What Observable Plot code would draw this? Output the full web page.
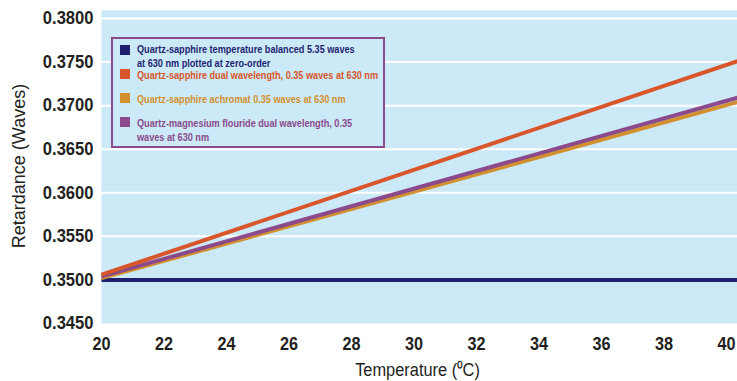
<!DOCTYPE html>
<html>
<head>
<meta charset="utf-8">
<script src="https://cdn.jsdelivr.net/npm/d3@7"></script>
<script src="https://cdn.jsdelivr.net/npm/@observablehq/plot@0.6"></script>
<style>
  body { margin: 0; background: #fff; }
  #wrap { position: relative; width: 737px; height: 381px; font-family: "Liberation Sans", Arial, sans-serif; }
  #legend { position: absolute; left: 111px; top: 37px; width: 270px; height: 107px; border: 2.5px solid #8b4a8c; background: #cce9f8; }
  .sw { position: absolute; left: 6.5px; width: 10px; height: 10px; }
  .lbl { position: absolute; left: 23.5px; white-space: nowrap; font-size: 11px; font-weight: bold; line-height: 14px; transform: scaleX(0.83); transform-origin: 0 0; }
</style>
</head>
<body>
<div id="wrap"></div>
<script>
// Temperature (°C) at the two ends of each straight line (the lines run to the chart's right edge)
const temps = [20, 40.35];
const balanced = [0.3500, 0.3500];
const dual = [0.3506, 0.3751];
const achromat = [0.3502, 0.3704];
const mgf2 = [0.3504, 0.3709];
const yTicks = [0.345, 0.350, 0.355, 0.360, 0.365, 0.370, 0.375, 0.380];
const xTicks = [20, 22, 24, 26, 28, 30, 32, 34, 36, 38, 40];

const seriesNames = [
  ["Quartz-sapphire temperature balanced 5.35 waves", "at 630 nm plotted at zero-order"],
  ["Quartz-sapphire dual wavelength, 0.35 waves at 630 nm"],
  ["Quartz-sapphire achromat 0.35 waves at 630 nm"],
  ["Quartz-magnesium flouride dual wavelength, 0.35", "waves at 630 nm"]
];
const seriesColors = ["#1e1f6f", "#d8562a", "#d2902e", "#8a4a8b"];
const seriesValues = [balanced, dual, achromat, mgf2];

const rows = [];
seriesValues.forEach((vals, i) => temps.forEach((t, j) => rows.push({s: i, t, v: vals[j]})));
const drawOrder = [0, 2, 3, 1];
const ink = "#231f20";

const plot = Plot.plot({
  width: 737,
  height: 381,
  marginLeft: 101,
  marginRight: 0,
  marginTop: 18,
  marginBottom: 58,
  style: {fontFamily: '"Liberation Sans", Arial, sans-serif', background: "#fff", overflow: "visible"},
  x: {domain: [20, 40.35]},
  y: {domain: [0.345, 0.380]},
  marks: [
    Plot.frame({fill: "#cce9f8", stroke: null, insetTop: -8}),
    Plot.ruleY(yTicks.slice(1), {stroke: "white", strokeWidth: 2}),
    ...drawOrder.map(i => Plot.line(rows.filter(d => d.s === i), {x: "t", y: "v", stroke: seriesColors[i], strokeWidth: 4, strokeLinecap: "butt"})),
    Plot.axisY({ticks: yTicks, tickFormat: d3.format(".4f"), tickSize: 0, tickPadding: 8, fontSize: 18, fontWeight: "bold", fill: ink, label: null, className: "ytk"}),
    Plot.axisX({ticks: xTicks, tickFormat: d => String(d), tickSize: 0, tickPadding: 14, fontSize: 18, fontWeight: "bold", fill: ink, label: null, className: "xtk"}),
    Plot.text(["Retardance (Waves)"], {frameAnchor: "left", textAnchor: "middle", lineAnchor: "middle", dx: -82, dy: -5, rotate: -90, fontSize: 18, fill: ink, className: "ytitle"}),
    Plot.text(["Temperature (⁰C)"], {frameAnchor: "bottom", textAnchor: "middle", lineAnchor: "middle", dy: 47, dx: -2, fontSize: 18, fill: ink, className: "xtitle"})
  ]
});

const wrap = document.getElementById("wrap");
wrap.appendChild(plot);

// condense the text horizontally (the reference uses a narrow typeface)
function squeeze(sel, f) {
  d3.select(plot).selectAll(sel).each(function() {
    const w = this.getComputedTextLength();
    this.setAttribute("textLength", w * f);
    this.setAttribute("lengthAdjust", "spacingAndGlyphs");
  });
}
squeeze(".ytk text", 0.92);
squeeze(".xtk text", 0.9);
squeeze(".xtitle text", 0.91);
squeeze(".ytitle text", 1.0);

const legend = document.createElement("div");
legend.id = "legend";
const swTops = [5.5, 29.5, 53.5, 77.5];
const txtTops = [2.5, 28.5, 52.5, 76.5];
seriesNames.forEach((lines, i) => {
  const sw = document.createElement("div");
  sw.className = "sw";
  sw.style.top = swTops[i] + "px";
  sw.style.background = seriesColors[i];
  const lb = document.createElement("div");
  lb.className = "lbl";
  lb.style.top = txtTops[i] + "px";
  lb.style.color = seriesColors[i];
  lb.innerHTML = lines.join("<br>");
  legend.appendChild(sw);
  legend.appendChild(lb);
});
wrap.appendChild(legend);
</script>
</body>
</html>
